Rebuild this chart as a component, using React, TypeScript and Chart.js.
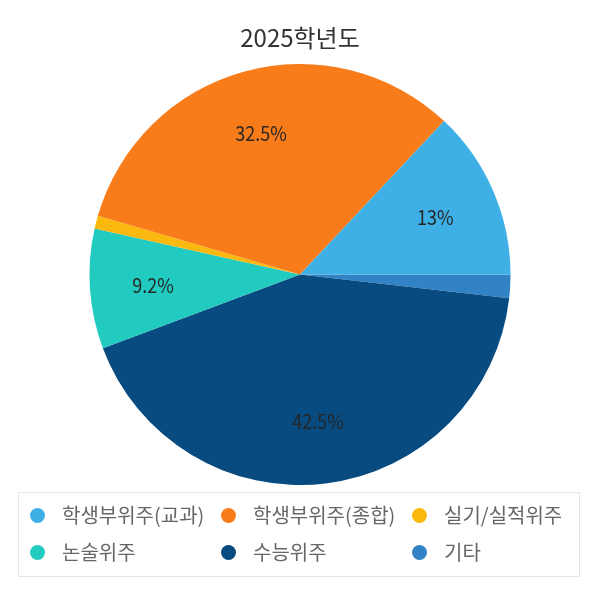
import React, { useEffect, useRef } from "react";
import { Chart, registerables } from "chart.js";

Chart.register(...registerables);

const TITLE = "2025학년도";
const categories = ["학생부위주(교과)", "학생부위주(종합)", "실기/실적위주", "논술위주", "수능위주", "기타"];
const values = [13, 32.5, 1.0, 9.2, 42.5, 1.8];
const colors = ["#3fb0e6", "#f97c1b", "#fbb80f", "#22cbc0", "#084b81", "#3183c6"];
const LABEL_MIN = 5;

const FONT = "'Noto Sans CJK KR', 'Noto Sans', sans-serif";

const pieLabels = {
  id: "pieLabels",
  afterDatasetsDraw(chart: any) {
    const ctx = chart.ctx;
    const meta = chart.getDatasetMeta(0);
    const data = chart.data.datasets[0].data as number[];
    ctx.save();
    ctx.font = `20px ${FONT}`;
    ctx.fillStyle = "#262626";
    ctx.textAlign = "center";
    ctx.textBaseline = "middle";
    meta.data.forEach((arc: any, i: number) => {
      const v = data[i];
      if (v < LABEL_MIN) return;
      const { x, y, startAngle, endAngle, outerRadius } = arc.getProps(
        ["x", "y", "startAngle", "endAngle", "outerRadius"],
        true
      );
      const mid = (startAngle + endAngle) / 2;
      const r = outerRadius * 0.7;
      const px = x + Math.cos(mid) * r;
      const py = y + Math.sin(mid) * r;
      ctx.save();
      ctx.translate(px, py);
      ctx.scale(0.9, 1);
      ctx.fillText(`${v}%`, 0, 1);
      ctx.restore();
    });
    ctx.restore();
  },
};

export default function App() {
  const ref = useRef<HTMLCanvasElement | null>(null);

  useEffect(() => {
    if (!ref.current) return;
    const labels = [...categories].reverse();
    const data = [...values].reverse();
    const bg = [...colors].reverse();
    const chart = new Chart(ref.current, {
      type: "pie",
      data: {
        labels,
        datasets: [
          {
            data,
            backgroundColor: bg,
            borderWidth: 0,
            hoverOffset: 0,
          },
        ],
      },
      options: {
        animation: false,
        responsive: false,
        rotation: 90,
        layout: { padding: { top: 0, left: 89.5, right: 83.5, bottom: 111 } },
        plugins: {
          legend: { display: false },
          tooltip: { enabled: false },
          title: {
            display: true,
            text: TITLE,
            color: "#333333",
            font: { family: FONT, size: 24, weight: "normal" as any },
            padding: { top: 23.6, bottom: 11.6 },
          },
        },
      },
      plugins: [pieLabels],
    });
    return () => chart.destroy();
  }, []);

  const colX = [37, 228, 419];
  const rowY = [515, 552];

  return (
    <div style={{ position: "absolute", left: 0, top: 0, width: 594, height: 596, background: "#fff", overflow: "hidden" }}>
      <canvas ref={ref} width={594} height={596} style={{ position: "absolute", left: 0, top: 0, width: 594, height: 596 }} />
      <div
        style={{
          position: "absolute",
          left: 18,
          top: 492,
          width: 562,
          height: 85,
          boxSizing: "border-box",
          border: "1px solid #e6e6e6",
        }}
      />
      {categories.map((c, i) => {
        const cx = colX[i % 3];
        const cy = rowY[Math.floor(i / 3)];
        return (
          <React.Fragment key={c}>
            <div
              style={{
                position: "absolute",
                left: cx - 7.5,
                top: cy - 7.5,
                width: 15,
                height: 15,
                borderRadius: "50%",
                background: colors[i],
              }}
            />
            <div
              style={{
                position: "absolute",
                left: cx + 25,
                top: cy - 15,
                height: 30,
                lineHeight: "30px",
                fontFamily: FONT,
                fontSize: 20,
                color: "#666666",
                whiteSpace: "nowrap",
              }}
            >
              {c}
            </div>
          </React.Fragment>
        );
      })}
    </div>
  );
}
